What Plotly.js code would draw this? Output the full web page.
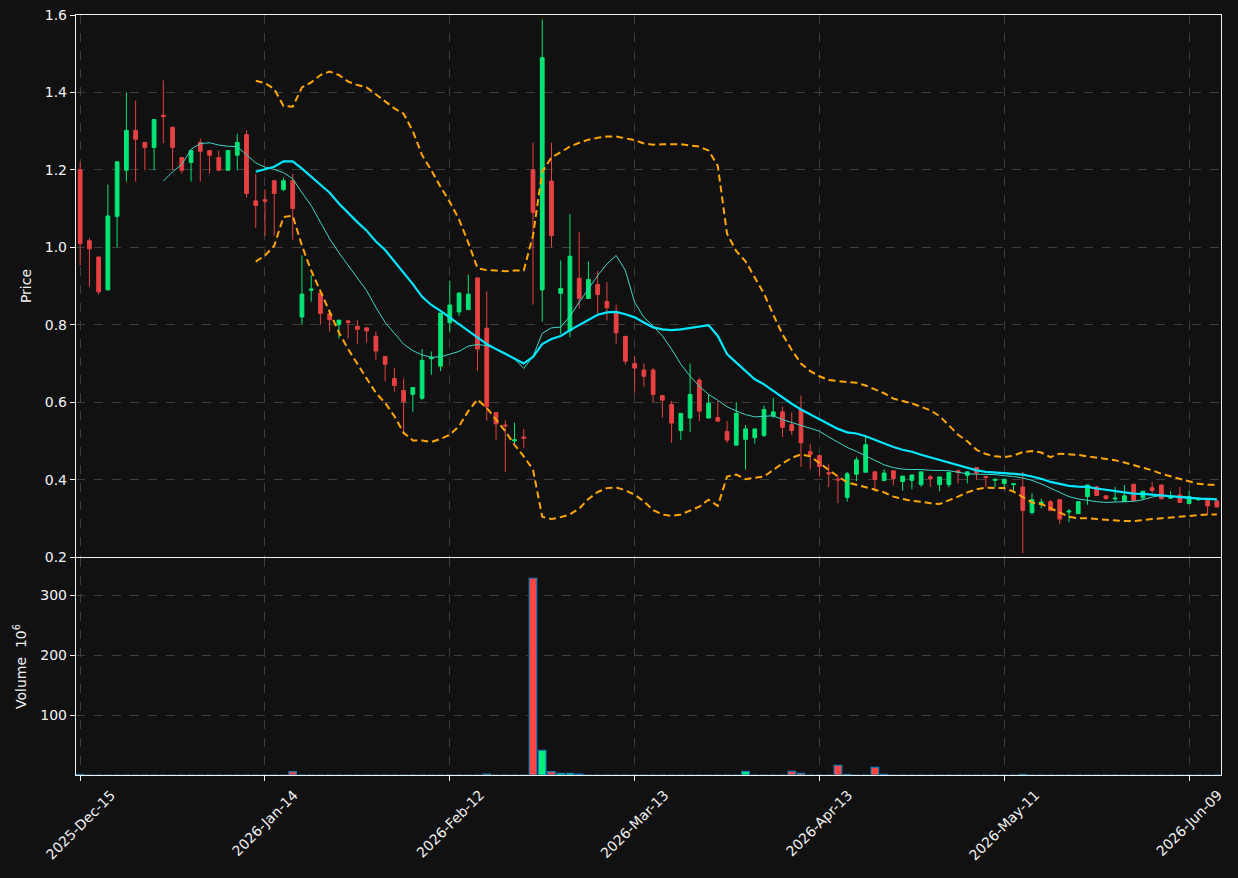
<!DOCTYPE html>
<html>
<head>
<meta charset="utf-8">
<script src="https://cdn.plot.ly/plotly-3.0.1.min.js"></script>
<style>html,body{margin:0;padding:0;background:#111111;}#chart{width:1238px;height:878px;}</style>
</head>
<body>
<div id="chart"></div>
<script>
// Tick labels (trading-day index positions 0,20,...,120)
const tickLabels = ["2025-Dec-15","2026-Jan-14","2026-Feb-12","2026-Mar-13","2026-Apr-13","2026-May-11","2026-Jun-09"];
const tickIndex = [0,20,40,60,80,100,120];

const opens = [1.2,1.017,0.975,0.89,1.08,1.199,1.302,1.271,1.258,1.341,
1.31,1.232,1.219,1.271,1.25,1.232,1.199,1.238,1.291,1.12,
1.123,1.172,1.149,1.172,0.82,0.889,0.882,0.829,0.8,0.81,
0.796,0.792,0.77,0.718,0.661,0.63,0.62,0.61,0.712,0.693,
0.805,0.833,0.839,0.921,0.791,0.573,0.541,0.5,0.51,1.2,
0.89,1.171,0.881,0.784,0.92,0.868,0.904,0.86,0.832,0.77,
0.7,0.683,0.683,0.617,0.594,0.527,0.559,0.657,0.559,0.56,
0.524,0.489,0.504,0.508,0.514,0.564,0.575,0.542,0.581,0.472,
0.462,0.418,0.401,0.354,0.414,0.419,0.42,0.398,0.423,0.395,
0.398,0.387,0.407,0.387,0.387,0.423,0.411,0.431,0.408,0.398,
0.39,0.387,0.381,0.315,0.336,0.343,0.348,0.316,0.312,0.356,
0.381,0.358,0.35,0.343,0.388,0.353,0.379,0.386,0.352,0.36,
0.338,0.348,0.346,0.345];
const highs = [1.221,1.024,0.976,1.162,1.222,1.4,1.379,1.271,1.33,1.431,
1.31,1.232,1.25,1.281,1.25,1.25,1.25,1.293,1.302,1.19,
1.15,1.172,1.179,1.19,0.979,0.928,0.885,0.838,0.812,0.811,
0.812,0.793,0.782,0.718,0.689,0.661,0.638,0.737,0.731,0.83,
0.914,0.882,0.929,0.921,0.886,0.573,0.553,0.547,0.531,1.27,
1.588,1.27,0.966,1.086,1.039,0.963,0.939,0.91,0.852,0.77,
0.719,0.7,0.689,0.617,0.603,0.571,0.7,0.662,0.62,0.603,
0.551,0.6,0.541,0.531,0.591,0.611,0.588,0.574,0.617,0.493,
0.462,0.44,0.41,0.42,0.458,0.51,0.42,0.427,0.423,0.409,
0.412,0.42,0.412,0.407,0.419,0.424,0.421,0.431,0.408,0.401,
0.401,0.389,0.42,0.365,0.35,0.347,0.348,0.324,0.343,0.386,
0.384,0.359,0.381,0.386,0.388,0.37,0.394,0.387,0.37,0.381,
0.37,0.355,0.346,0.345];
const lows = [0.953,0.898,0.878,0.889,1.0,1.17,1.17,1.199,1.199,1.269,
1.199,1.19,1.17,1.17,1.19,1.199,1.199,1.199,1.129,1.05,
1.03,1.03,1.145,1.02,0.8,0.86,0.8,0.782,0.764,0.764,
0.751,0.754,0.71,0.654,0.627,0.516,0.575,0.605,0.671,0.68,
0.78,0.823,0.839,0.681,0.552,0.503,0.42,0.49,0.482,0.852,
0.808,1.0,0.776,0.768,0.842,0.868,0.829,0.811,0.751,0.697,
0.624,0.64,0.6,0.56,0.495,0.502,0.523,0.551,0.559,0.551,
0.495,0.489,0.426,0.493,0.51,0.559,0.51,0.515,0.433,0.426,
0.408,0.381,0.339,0.343,0.396,0.419,0.369,0.396,0.385,0.371,
0.375,0.381,0.381,0.37,0.38,0.39,0.39,0.4,0.381,0.381,
0.374,0.369,0.21,0.31,0.326,0.32,0.285,0.29,0.312,0.335,
0.359,0.347,0.343,0.343,0.343,0.348,0.365,0.348,0.351,0.341,
0.338,0.345,0.31,0.329];
const closes = [1.01,0.996,0.885,1.081,1.221,1.302,1.279,1.258,1.33,1.338,
1.258,1.199,1.25,1.248,1.238,1.199,1.25,1.271,1.139,1.108,
1.119,1.139,1.172,1.1,0.879,0.892,0.829,0.813,0.812,0.806,
0.788,0.784,0.732,0.698,0.643,0.602,0.638,0.708,0.715,0.83,
0.851,0.882,0.879,0.737,0.588,0.544,0.539,0.503,0.507,1.09,
1.49,1.03,0.894,0.977,0.868,0.917,0.878,0.844,0.779,0.706,
0.688,0.667,0.62,0.605,0.546,0.571,0.62,0.577,0.597,0.551,
0.502,0.571,0.531,0.531,0.581,0.575,0.535,0.527,0.495,0.465,
0.434,0.415,0.399,0.415,0.451,0.49,0.4,0.417,0.403,0.409,
0.412,0.42,0.402,0.407,0.419,0.418,0.42,0.417,0.406,0.401,
0.401,0.389,0.32,0.348,0.342,0.32,0.298,0.319,0.343,0.386,
0.359,0.351,0.352,0.358,0.346,0.37,0.372,0.351,0.354,0.341,
0.356,0.349,0.332,0.329];
// Volume in millions (0 = too small to see)
const volumes = [1.0,0,0,0,0,0,0,0,0,0,
0,0,0,0,0,0,0,0,0,0,
0,0,0,5.5,0,0,0,0,0,0,
0,0,0,0,0,0,0,0,0,0,
0,0,0,0,1.5,0,0,0,0,328,
41,5.5,2.8,2.8,1.5,0,0,0,0,0,
0,0,0,0,0,0,0,0,0,0,
0,0,6,0,0,0,0,6,2.8,0,
0,0,16,1.0,0,0,12.8,1.0,0,0,
0,0,0,0,0,0,0,0,0,0,
0,0,1.0,0,0,0,0,0,0,0,
0,0,0,0,0,0,0,0,0,0,
0,0,0,0];

// 10-period moving average (starts at index 9)
const ma10Start = 9;
const ma10 = [1.171,1.195,1.214,1.253,1.268,1.27,1.264,1.261,1.26,1.238,
1.218,1.207,1.201,1.193,1.177,1.141,1.108,1.065,1.022,0.986,
0.953,0.923,0.888,0.845,0.806,0.778,0.75,0.733,0.722,0.716,
0.717,0.724,0.731,0.745,0.749,0.746,0.738,0.727,0.712,0.687,
0.718,0.778,0.792,0.794,0.822,0.858,0.892,0.927,0.957,0.979,
0.94,0.858,0.819,0.797,0.771,0.737,0.698,0.667,0.641,0.62,
0.605,0.588,0.577,0.568,0.562,0.564,0.565,0.555,0.548,0.54,
0.532,0.525,0.51,0.496,0.483,0.473,0.462,0.45,0.438,0.431,
0.427,0.426,0.426,0.424,0.424,0.423,0.419,0.415,0.414,0.414,
0.413,0.41,0.408,0.404,0.398,0.389,0.378,0.367,0.356,0.35,
0.346,0.343,0.341,0.342,0.343,0.344,0.348,0.355,0.359,0.358,
0.356,0.355,0.352,0.351,0.349];

// 20-period moving average and bands (start at index 19)
const ma20Start = 19;
const ma20 = [1.195,1.201,1.208,1.222,1.222,1.203,1.182,1.162,1.141,1.113,
1.088,1.065,1.043,1.015,0.993,0.964,0.936,0.905,0.872,0.851,
0.836,0.819,0.801,0.786,0.767,0.75,0.737,0.724,0.712,0.7,
0.717,0.75,0.763,0.771,0.786,0.799,0.814,0.826,0.832,0.833,
0.827,0.819,0.806,0.793,0.788,0.786,0.788,0.792,0.795,0.799,
0.771,0.724,0.702,0.68,0.659,0.646,0.629,0.611,0.596,0.581,
0.568,0.555,0.542,0.531,0.522,0.519,0.512,0.502,0.493,0.484,
0.477,0.472,0.464,0.457,0.451,0.443,0.436,0.43,0.424,0.42,
0.418,0.416,0.414,0.413,0.408,0.402,0.394,0.389,0.384,0.382,
0.381,0.377,0.374,0.371,0.367,0.364,0.363,0.361,0.358,0.356,
0.354,0.352,0.351,0.35,0.349];
const upperBand = [1.43,1.424,1.409,1.365,1.363,1.413,1.426,1.445,1.454,1.445,
1.428,1.419,1.413,1.395,1.376,1.359,1.345,1.3,1.238,1.199,
1.156,1.117,1.072,1.012,0.946,0.941,0.94,0.938,0.94,0.94,
1.03,1.195,1.232,1.245,1.26,1.27,1.278,1.283,1.286,1.286,
1.282,1.277,1.268,1.265,1.266,1.266,1.266,1.263,1.26,1.25,
1.21,1.035,0.99,0.964,0.92,0.88,0.826,0.775,0.735,0.7,
0.68,0.667,0.657,0.654,0.652,0.65,0.643,0.633,0.623,0.609,
0.603,0.597,0.588,0.579,0.564,0.54,0.516,0.499,0.477,0.466,
0.46,0.458,0.462,0.471,0.474,0.47,0.458,0.467,0.466,0.464,
0.46,0.457,0.453,0.45,0.444,0.438,0.431,0.424,0.415,0.408,
0.401,0.395,0.389,0.387,0.387];
const lowerBand = [0.963,0.979,1.004,1.078,1.082,1.004,0.94,0.888,0.836,0.78,
0.737,0.698,0.661,0.624,0.598,0.564,0.521,0.501,0.501,0.497,
0.505,0.516,0.538,0.577,0.607,0.585,0.555,0.525,0.49,0.46,
0.426,0.304,0.298,0.303,0.31,0.325,0.35,0.368,0.378,0.38,
0.372,0.361,0.344,0.321,0.31,0.306,0.31,0.321,0.33,0.348,
0.332,0.408,0.413,0.401,0.404,0.408,0.425,0.442,0.456,0.465,
0.46,0.443,0.424,0.408,0.393,0.387,0.381,0.374,0.367,0.356,
0.35,0.345,0.343,0.339,0.337,0.346,0.356,0.367,0.375,0.379,
0.379,0.378,0.369,0.355,0.341,0.337,0.326,0.313,0.304,0.3,
0.3,0.298,0.296,0.294,0.293,0.293,0.296,0.298,0.3,0.302,
0.304,0.306,0.309,0.31,0.31];

const UP = '#00e676', DOWN = '#e84142';
const VUP = '#00f080', VDOWN = '#ff4646';

const idx = opens.map((_, i) => i);
const idxFrom = (arr, start) => arr.map((_, k) => k + start);
const volColors = closes.map((c, i) => c >= opens[i] ? VUP : VDOWN);

const traces = [
  {
    type: 'candlestick', x: idx, open: opens, high: highs, low: lows, close: closes,
    xaxis: 'x2', yaxis: 'y', whiskerwidth: 0, hoverinfo: 'skip',
    increasing: {line: {color: UP, width: 1}, fillcolor: UP},
    decreasing: {line: {color: DOWN, width: 1}, fillcolor: DOWN}
  },
  {type: 'scatter', mode: 'lines', x: idxFrom(upperBand, ma20Start), y: upperBand, xaxis: 'x2', yaxis: 'y',
   line: {color: '#ffa500', width: 2, dash: '7px,4px'}, hoverinfo: 'skip'},
  {type: 'scatter', mode: 'lines', x: idxFrom(lowerBand, ma20Start), y: lowerBand, xaxis: 'x2', yaxis: 'y',
   line: {color: '#ffa500', width: 2, dash: '7px,4px'}, hoverinfo: 'skip'},
  {type: 'scatter', mode: 'lines', x: idxFrom(ma10, ma10Start), y: ma10, xaxis: 'x2', yaxis: 'y',
   line: {color: '#3cd6c6', width: 1}, hoverinfo: 'skip'},
  {type: 'scatter', mode: 'lines', x: idxFrom(ma20, ma20Start), y: ma20, xaxis: 'x2', yaxis: 'y',
   line: {color: '#00e8ff', width: 2.2}, hoverinfo: 'skip'},
  {type: 'bar', x: idx, y: volumes, xaxis: 'x', yaxis: 'y2', width: 0.82,
   marker: {color: volColors, line: {color: '#1f77b4', width: 1.2}}, hoverinfo: 'skip'}
];

const GRID = '#3d3d3d';
const AX = '#f2f2f2';
const FONT = {family: 'DejaVu Sans', size: 14, color: '#f2f2f2'};
const common = {
  showgrid: true, gridcolor: GRID, griddash: 'dash', gridwidth: 1,
  showline: true, linecolor: AX, linewidth: 1.2, mirror: true,
  ticks: 'outside', ticklen: 5, tickcolor: AX, tickwidth: 1,
  zeroline: false, tickfont: FONT
};

// Date labels rotated 45 degrees and centred under each tick
const dateAnnotations = tickLabels.map((t, k) => ({
  text: t, x: tickIndex[k], xref: 'x', y: -0.012, yref: 'paper',
  xanchor: 'center', yanchor: 'top', textangle: -45, showarrow: false, font: FONT
}));

const layout = {
  width: 1238, height: 878,
  paper_bgcolor: '#111111', plot_bgcolor: '#111111',
  margin: {l: 76, r: 17, t: 15, b: 103},
  showlegend: false,
  font: FONT,
  boxgap: 0.42,
  annotations: dateAnnotations,
  xaxis: Object.assign({}, common, {
    domain: [0, 1], anchor: 'y2', range: [-0.45, 123.45],
    tickmode: 'array', tickvals: tickIndex, showticklabels: false,
    rangeslider: {visible: false}
  }),
  xaxis2: Object.assign({}, common, {
    matches: 'x', anchor: 'y', range: [-0.45, 123.45],
    tickmode: 'array', tickvals: tickIndex, showticklabels: false, ticks: '',
    rangeslider: {visible: false}
  }),
  yaxis: Object.assign({}, common, {
    domain: [0.2868, 1], anchor: 'x2', range: [0.2, 1.6],
    tickmode: 'array', tickvals: [0.2,0.4,0.6,0.8,1.0,1.2,1.4,1.6], tickformat: '.1f',
    title: {text: 'Price', standoff: 9, font: FONT}
  }),
  yaxis2: Object.assign({}, common, {
    domain: [0, 0.2855], anchor: 'x', range: [0, 361.7],
    tickmode: 'array', tickvals: [100, 200, 300],
    title: {text: 'Volume  10<sup>6</sup>', standoff: 10, font: FONT}
  })
};

Plotly.newPlot('chart', traces, layout, {displayModeBar: false, staticPlot: true});
</script>
</body>
</html>
